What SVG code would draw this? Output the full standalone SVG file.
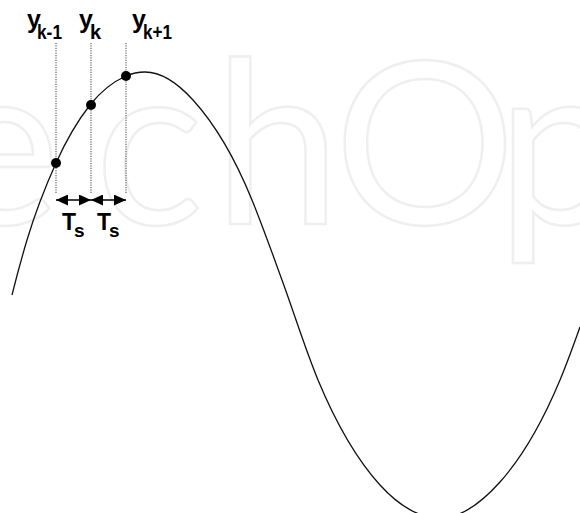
<svg xmlns="http://www.w3.org/2000/svg" width="580" height="513" viewBox="0 0 580 513">
<defs>
<style>
.wm{font-family:Lato,"Open Sans",sans-serif;font-size:227px;fill:none;stroke:#efefef;stroke-width:2.5}
.curve{fill:none;stroke:#111;stroke-width:1.3}
.guide{stroke:#444;stroke-width:1;stroke-dasharray:1.2 1.2}
.dot{fill:#000}
.arr{stroke:#000;stroke-width:1.3;fill:none}
.lbl{font-family:"Liberation Sans",Arial,sans-serif;font-weight:bold;fill:#000}
</style>
<marker id="ah" viewBox="0 0 12 11" refX="12" refY="5.5" markerWidth="12" markerHeight="11" markerUnits="userSpaceOnUse" orient="auto-start-reverse">
<path d="M0,0 L12,5.5 L0,11 Z" fill="#000"/>
</marker>
</defs>
<rect width="580" height="513" fill="#fff"/>
<g id="watermark">
<text class="wm" x="-60 95 214 334 497" y="224">echOp</text>
</g>
<g id="signal">
<path class="curve" d="M12,295 C17,275 22,256.7 27,240 C36.67,207.8 46.33,184.5 56,163 C67.33,137.8 78.67,119.4 90,105 C102,89.8 114,81.3 126,76 C132.33,73.2 138.67,72 145,72 C161,72 177,82.4 193,100 C212.67,121.6 232.33,151.8 252,200 C262,224.5 272,252.5 282,280 C294,313 306,351.2 318,380 C338.67,429.6 359.33,462.3 380,485 C400,507 420,518 440,518 C460,518 480,504.4 500,482 C520,459.6 540,428 560,380 C566.67,364 573.33,345.7 580,327"/>
</g>
<g id="guides">
<line class="guide" x1="56" y1="43" x2="56" y2="194"/>
<line class="guide" x1="91" y1="43" x2="91" y2="194"/>
<line class="guide" x1="126" y1="43" x2="126" y2="194"/>
</g>
<g id="samples">
<circle id="s-km1" class="dot" cx="56" cy="163" r="5"/>
<circle id="s-k" class="dot" cx="91" cy="105" r="5"/>
<circle id="s-kp1" class="dot" cx="126" cy="76" r="5"/>
</g>
<g id="connectors">
<line class="arr" x1="56" y1="200" x2="91" y2="200" marker-start="url(#ah)" marker-end="url(#ah)"/>
<line class="arr" x1="91" y1="200" x2="126" y2="200" marker-start="url(#ah)" marker-end="url(#ah)"/>
</g>
<g id="labels">
<text id="lbl-ykm1" class="lbl" x="27" y="28" font-size="25">y<tspan x="37" y="39" font-size="20" textLength="25" lengthAdjust="spacingAndGlyphs">k-1</tspan></text>
<text id="lbl-yk" class="lbl" x="79" y="28" font-size="25">y<tspan x="90" y="39" font-size="20">k</tspan></text>
<text id="lbl-ykp1" class="lbl" x="132" y="28" font-size="25">y<tspan x="143" y="39" font-size="20" textLength="29" lengthAdjust="spacingAndGlyphs">k+1</tspan></text>
<text id="lbl-ts1" class="lbl" x="62" y="230" font-size="23">T<tspan x="74" y="237" font-size="19">s</tspan></text>
<text id="lbl-ts2" class="lbl" x="97" y="230" font-size="23">T<tspan x="109" y="237" font-size="19">s</tspan></text>
</g>
</svg>
